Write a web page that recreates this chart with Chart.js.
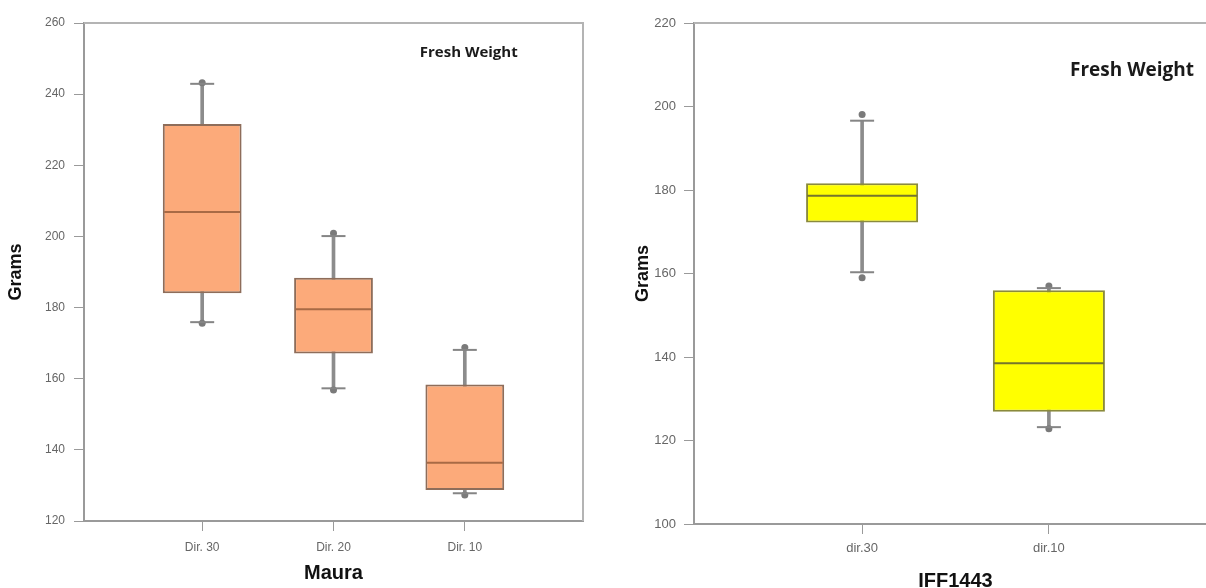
<!DOCTYPE html>
<html>
<head>
<meta charset="utf-8">
<script src="https://cdn.jsdelivr.net/npm/chart.js@4.4.0/dist/chart.umd.min.js"></script>
<style>
html, body { margin: 0; padding: 0; background: #fff; overflow: hidden; width: 1206px; height: 588px; }
#leftBox { position: absolute; left: 0; top: 0; }
#rightBox { position: absolute; left: 603px; top: 0; }
</style>
</head>
<body>
<canvas id="leftBox" width="603" height="588"></canvas>
<canvas id="rightBox" width="634" height="588"></canvas>
<script>
// Maura (left panel)
var mauraLabels = ['Dir. 30', 'Dir. 20', 'Dir. 10'];
var mauraQ1 = [184.0, 167.1, 128.7];
var mauraMedian = [206.9, 179.5, 136.4];
var mauraQ3 = [231.6, 188.4, 158.4];
var mauraCapLow = [175.9, 157.3, 127.8];
var mauraCapHigh = [242.9, 200.1, 168.1];
var mauraDotLow = [175.6, 156.8, 127.3];
var mauraDotHigh = [243.2, 200.9, 168.8];
var mauraTicks = [120, 260, 20]; // min, max, step

// IFF1443 (right panel)
var iffLabels = ['dir.30', 'dir.10'];
var iffQ1 = [172.2, 126.9];
var iffMedian = [178.6, 138.5];
var iffQ3 = [181.6, 156.0];
var iffCapLow = [160.3, 123.2];
var iffCapHigh = [196.6, 156.5];
var iffDotLow = [159.0, 122.8];
var iffDotHigh = [198.1, 157.0];
var iffTicks = [100, 220, 20];

// frame line on top / right of the plot area
var frameLines = {
    id: 'frameLines',
    beforeDatasetsDraw: function (chart, args, o) {
        var a = chart.chartArea, c = chart.ctx;
        c.save();
        c.strokeStyle = o.color;
        c.lineWidth = o.width;
        c.beginPath();
        c.moveTo(a.left, a.top);
        c.lineTo(a.right, a.top);
        c.lineTo(a.right, a.bottom);
        c.stroke();
        c.restore();
    }
};

// "Fresh Weight" note, placed by data values
var noteText = {
    id: 'noteText',
    afterDraw: function (chart, args, o) {
        var c = chart.ctx;
        c.save();
        c.font = o.font;
        c.fillStyle = o.color;
        c.textAlign = 'center';
        c.textBaseline = 'middle';
        c.fillText(o.text, chart.scales.x.getPixelForValue(o.x), chart.scales.y.getPixelForValue(o.y));
        c.restore();
    }
};

function boxChart(id, labels, q1, med, q3, capLo, capHi, dotLo, dotHi, ticks, st) {
    var pos = labels.map(function (l, i) { return i + 1; });
    var capPts = [], dotPts = [];
    pos.forEach(function (x, i) {
        capPts.push({x: x, y: capLo[i]}, {x: x, y: capHi[i]});
        dotPts.push({x: x, y: dotLo[i]}, {x: x, y: dotHi[i]});
    });
    return new Chart(document.getElementById(id), {
        type: 'bar',
        data: {
            datasets: [{
                // box q1..q3
                data: pos.map(function (x, i) { return {x: x, y: [q1[i], q3[i]]}; }),
                backgroundColor: st.fill,
                borderColor: st.edge,
                borderWidth: 2,
                borderSkipped: false,
                grouped: false,
                categoryPercentage: 1,
                barPercentage: 0.6,
                order: 2
            }, {
                // whisker stem
                data: pos.map(function (x, i) { return {x: x, y: [capLo[i], capHi[i]]}; }),
                backgroundColor: '#8c8c8c',
                barThickness: 3,
                grouped: false,
                order: 4
            }, {
                type: 'scatter',
                data: pos.map(function (x, i) { return {x: x, y: med[i]}; }),
                pointStyle: 'line',
                pointRadius: st.medRadius,
                pointBorderColor: st.med,
                pointBorderWidth: 2,
                order: 1
            }, {
                type: 'scatter',
                data: capPts,
                pointStyle: 'line',
                pointRadius: 12,
                pointBorderColor: '#858585',
                pointBorderWidth: 2,
                order: 3
            }, {
                type: 'scatter',
                data: dotPts,
                pointStyle: 'circle',
                pointRadius: 3.5,
                pointBackgroundColor: '#7a7a7a',
                pointBorderWidth: 0,
                order: 3
            }]
        },
        options: {
            responsive: false,
            animation: false,
            layout: {autoPadding: false, padding: {left: 0, top: 23, right: 20, bottom: 0}},
            plugins: {
                legend: {display: false},
                tooltip: {enabled: false},
                frameLines: {color: '#b4b4b4', width: 2},
                noteText: {text: 'Fresh Weight', x: st.noteX, y: st.noteY, font: st.noteFont, color: '#1a1a1a'}
            },
            scales: {
                x: {
                    type: 'linear',
                    offset: false,
                    min: 0.1,
                    max: labels.length + 0.9,
                    afterBuildTicks: function (s) { s.ticks = pos.map(function (v) { return {value: v}; }); },
                    afterFit: function (s) { s.height = st.xHeight; },
                    grid: {offset: false, drawOnChartArea: false, drawTicks: true, tickLength: 10, color: '#9a9a9a'},
                    border: {color: '#9a9a9a', width: 2},
                    ticks: {
                        callback: function (v, i) { return labels[i]; },
                        font: {family: 'Liberation Sans', size: st.tickSize},
                        color: '#666',
                        padding: st.xPad,
                        maxRotation: 0
                    },
                    title: {
                        display: true,
                        text: st.xTitle,
                        font: {family: 'Liberation Sans', size: 20, weight: 'bold', lineHeight: 1.2},
                        color: '#111',
                        padding: {top: 0, bottom: st.xTitlePad}
                    }
                },
                y: {
                    min: ticks[0],
                    max: ticks[1],
                    afterFit: function (s) { s.width = st.yWidth; },
                    grid: {drawOnChartArea: false, drawTicks: true, tickLength: 10, color: '#9a9a9a'},
                    border: {color: '#9a9a9a', width: 2},
                    ticks: {
                        stepSize: ticks[2],
                        font: {family: 'Liberation Sans', size: st.tickSize},
                        color: '#666',
                        padding: st.yPad
                    },
                    title: {
                        display: true,
                        text: 'Grams',
                        font: {family: 'Liberation Sans', size: 18, weight: 'bold', lineHeight: 1.2},
                        color: '#111',
                        padding: {top: st.yTitlePad, bottom: 0}
                    }
                }
            }
        },
        plugins: [frameLines, noteText]
    });
}

var leftChart = boxChart('leftBox', mauraLabels, mauraQ1, mauraMedian, mauraQ3,
    mauraCapLow, mauraCapHigh, mauraDotLow, mauraDotHigh, mauraTicks, {
        fill: '#fcaa7a', edge: '#8e6d5a', med: '#a86a45', medRadius: 38,
        noteX: 3.03, noteY: 251.6, noteFont: 'bold 15px "Open Sans"',
        xTitle: 'Maura', xHeight: 67, xPad: 9, xTitlePad: 3,
        yWidth: 84, yPad: 9, yTitlePad: 5, tickSize: 12
    });

var rightChart = boxChart('rightBox', iffLabels, iffQ1, iffMedian, iffQ3,
    iffCapLow, iffCapHigh, iffDotLow, iffDotHigh, iffTicks, {
        fill: '#ffff00', edge: '#8a8a3c', med: '#75752c', medRadius: 55,
        noteX: 2.445, noteY: 208.5, noteFont: 'bold 19px "Open Sans"',
        xTitle: 'IFF1443', xHeight: 64, xPad: 7, xTitlePad: -5,
        yWidth: 91, yPad: 8, yTitlePad: 29, tickSize: 13
    });
</script>
</body>
</html>
